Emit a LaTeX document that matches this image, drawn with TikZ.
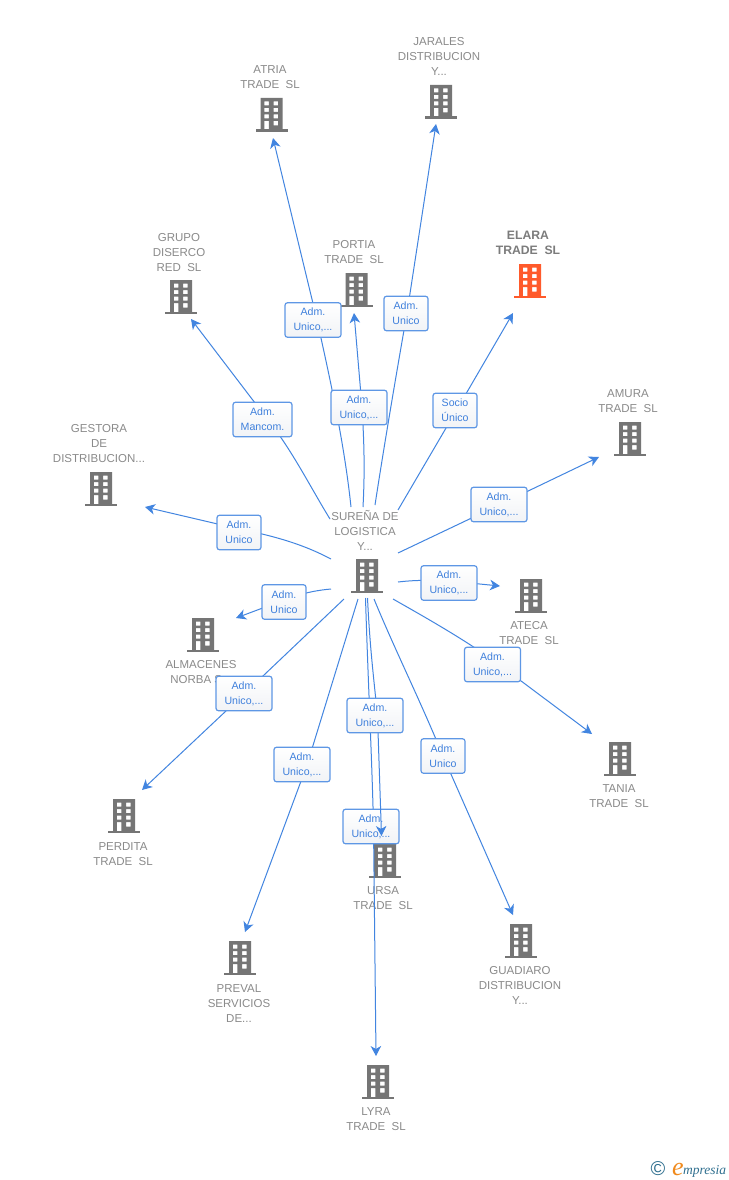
\documentclass[tikz,border=0pt]{standalone}
\usepackage{fontspec}
\setmainfont{Liberation Sans}
\newfontfamily\logofont{Liberation Serif}
\usetikzlibrary{arrows.meta}
\definecolor{linkblue}{HTML}{4285E0}
\definecolor{boxtext}{HTML}{3F80DC}
\definecolor{greytext}{HTML}{8A8A8A}
\definecolor{bldggrey}{HTML}{757575}
\definecolor{bldgred}{HTML}{FF5A2B}
\definecolor{logoteal}{HTML}{2F6F8F}
\definecolor{logoorange}{HTML}{F08A1D}
\definecolor{tagshade}{HTML}{F1F3F6}
\tikzset{
  bldg/.pic={
    \fill[pic actions,even odd rule]
      (-11,-17) rectangle (11,15)
      (-7.2,-13.5) rectangle (-2.7,-9.5) (2.2,-13.5) rectangle (6.7,-9.5)
      (-7.2,-7) rectangle (-2.7,-3) (2.2,-7) rectangle (6.7,-3)
      (-7.2,-0.5) rectangle (-2.7,3.5) (2.2,-0.5) rectangle (6.7,3.5)
      (-7.2,6) rectangle (-2.7,15) (2.2,6) rectangle (6.7,10.5);
    \fill[pic actions] (-16,14.5) rectangle (16,17);
  },
  grey/.style={fill=bldggrey},
  red/.style={fill=bldgred},
  lbl/.style={font=\fontsize{11.5}{15}\selectfont,text=greytext,align=center,inner sep=0pt,yshift=-0.8pt},
  lblstrong/.style={font=\fontsize{12.2}{15}\selectfont\bfseries,text=greytext!90!black,align=center,inner sep=0pt},
  link/.style={draw=linkblue,line width=1pt,-{Stealth[length=10pt,width=10.5pt,inset=3pt]}},
  tagbox/.style={draw=linkblue!85!white,line width=1.2pt,rounded corners=2.5pt,top color=white,bottom color=tagshade,
    font=\fontsize{10.6}{15}\selectfont,text=boxtext,align=center,inner sep=0pt,minimum height=34.5pt,
    execute at begin node={\rule{0pt}{11pt}}},
  tagwide/.style={tagbox,minimum width=56pt},
  tagslim/.style={tagbox,minimum width=44pt},
  tagmid/.style={tagbox,minimum width=59pt},
}
\begin{document}
\begin{tikzpicture}[x=1pt,y=-1pt]
\useasboundingbox (0,0) rectangle (728,1180);
\fill[white] (0,0) rectangle (728,1180);

% free ends of the connectors
\coordinate (sAtria) at (351,507);   \coordinate (kAtria) at (317,320);  \coordinate (tAtria) at (273,138);
\coordinate (sJarales) at (375,505); \coordinate (kJarales) at (407,313);\coordinate (tJarales) at (436,124);
\coordinate (sPortia) at (363,507);  \coordinate (kPortia) at (362,407); \coordinate (tPortia) at (354,313);
\coordinate (sElara) at (398,510);   \coordinate (kElara) at (456,411);  \coordinate (tElara) at (513,313);
\coordinate (sGrupo) at (330,519);   \coordinate (kGrupo) at (268,420);  \coordinate (tGrupo) at (191,319);
\coordinate (sGestora) at (331,559); \coordinate (kGestora) at (239,529);\coordinate (tGestora) at (145,507);
\coordinate (sAmura) at (398,553);   \coordinate (kAmura) at (499,505);  \coordinate (tAmura) at (599,457);
\coordinate (sAteca) at (398,582);   \coordinate (kAteca) at (449,581);  \coordinate (tAteca) at (500,586);
\coordinate (sAlma) at (331,589);    \coordinate (kAlma) at (284,600);   \coordinate (tAlma) at (236,618);
\coordinate (sTania) at (393,599);   \coordinate (kTania) at (497,663);  \coordinate (tTania) at (592,734);
\coordinate (sPerdita) at (344,599); \coordinate (kPerdita) at (244,694);\coordinate (tPerdita) at (142,790);
\coordinate (sPreval) at (358,599);  \coordinate (kPreval) at (307,765); \coordinate (tPreval) at (245,932);
\coordinate (sUrsa) at (367.5,598);  \coordinate (kUrsa) at (377.5,716); \coordinate (tUrsa) at (381.5,836);
\coordinate (sLyra) at (365.5,598);  \coordinate (kLyra) at (373.5,826); \coordinate (tLyra) at (376,1056);
\coordinate (sGuad) at (374,599);    \coordinate (kGuad) at (443,756);   \coordinate (tGuad) at (513,915);

% buildings and their labels
\pic[grey] at (271.5,115) {bldg};
\pic[grey] at (441,102) {bldg};
\pic[red]  at (530,281) {bldg};
\pic[grey] at (356.5,290) {bldg};
\pic[grey] at (181,297) {bldg};
\pic[grey] at (101,489) {bldg};
\pic[grey] at (630,439) {bldg};
\pic[grey] at (367,576) {bldg};
\pic[grey] at (531,596) {bldg};
\pic[grey] at (203,635) {bldg};
\pic[grey] at (620,759) {bldg};
\pic[grey] at (124,816) {bldg};
\pic[grey] at (385,861) {bldg};
\pic[grey] at (240,958) {bldg};
\pic[grey] at (521,941) {bldg};
\pic[grey] at (378,1082) {bldg};

\node[lbl] (nAtria) at (270,76.5) {ATRIA\\TRADE\ \ SL};
\node[lbl] (nJarales) at (439,56) {JARALES\\DISTRIBUCION\\Y...};
\node[lblstrong] (nElara) at (528,242.5) {ELARA\\TRADE\ \ SL};
\node[lbl] (nPortia) at (354,251.5) {PORTIA\\TRADE\ \ SL};
\node[lbl] (nGrupo) at (179,252) {GRUPO\\DISERCO\\RED\ \ SL};
\node[lbl] (nGestora) at (99,443) {GESTORA\\DE\\DISTRIBUCION...};
\node[lbl] (nAmura) at (628,400.5) {AMURA\\TRADE\ \ SL};
\node[lbl] (nHub) at (365,530) {SUREÑA DE\\LOGISTICA\\Y...};
\node[lbl] (nAteca) at (529,632.5) {ATECA\\TRADE\ \ SL};
\node[lbl] (nAlma) at (201,671.5) {ALMACENES\\NORBA S...};
\node[lbl] (nTania) at (619,795.5) {TANIA\\TRADE\ \ SL};
\node[lbl] (nPerdita) at (123,853.5) {PERDITA\\TRADE\ \ SL};
\node[lbl] (nUrsa) at (383,897.5) {URSA\\TRADE\ \ SL};
\node[lbl] (nPreval) at (239,1003) {PREVAL\\SERVICIOS\\DE...};
\node[lbl] (nGuad) at (520,985) {GUADIARO\\DISTRIBUCION\\Y...};
\node[lbl] (nLyra) at (376,1118.5) {LYRA\\TRADE\ \ SL};

% connectors
\draw[link] (sAtria) .. controls (344,440) and (328,370) .. (kAtria) -- (tAtria);
\draw[link] (sJarales) .. controls (385,440) and (397,370) .. (kJarales) -- (tJarales);
\draw[link] (sPortia) .. controls (365,470) and (364,440) .. (kPortia) -- (tPortia);
\draw[link] (sElara) -- (kElara) -- (tElara);
\draw[link] (sGrupo) .. controls (312,490) and (292,450) .. (kGrupo) -- (tGrupo);
\draw[link] (sGestora) .. controls (310,548) and (285,538) .. (kGestora) -- (tGestora);
\draw[link] (sAmura) -- (kAmura) -- (tAmura);
\draw[link] (sAteca) .. controls (415,580) and (430,580) .. (kAteca) -- (tAteca);
\draw[link] (sAlma) .. controls (320,590) and (305,592) .. (kAlma) -- (tAlma);
\draw[link] (sTania) .. controls (430,620) and (465,640) .. (kTania) -- (tTania);
\draw[link] (sPerdita) -- (kPerdita) -- (tPerdita);
\draw[link] (sPreval) -- (kPreval) -- (tPreval);
\draw[link] (sGuad) .. controls (395,650) and (420,700) .. (kGuad) -- (tGuad);
\draw[link] (sLyra) .. controls (368,680) and (372,760) .. (kLyra) -- (tLyra);

% tags on the connectors
\node[tagwide] (bAtria) at (313,320) {Adm.\\Unico,...};
\node[tagslim] (bJarales) at (406,313.5) {Adm.\\Unico};
\node[tagwide] (bPortia) at (359,407.5) {Adm.\\Unico,...};
\node[tagslim] (bElara) at (455,410.5) {Socio\\Único};
\node[tagmid]  (bGrupo) at (262.5,419.5) {Adm.\\Mancom.};
\node[tagslim] (bGestora) at (239,532.5) {Adm.\\Unico};
\node[tagwide] (bAmura) at (499,504.5) {Adm.\\Unico,...};
\node[tagwide] (bAteca) at (449,583) {Adm.\\Unico,...};
\node[tagslim] (bAlma) at (284,602) {Adm.\\Unico};
\node[tagwide] (bTania) at (492.5,664.5) {Adm.\\Unico,...};
\node[tagwide] (bPerdita) at (244,693.5) {Adm.\\Unico,...};
\node[tagwide] (bPreval) at (302,764.5) {Adm.\\Unico,...};
\node[tagslim] (bGuad) at (443,756) {Adm.\\Unico};
\node[tagwide] (bLyra) at (371,826.5) {Adm.\\Unico,...};

\draw[link] (sUrsa) .. controls (370,650) and (374,680) .. (kUrsa) -- (tUrsa);
\node[tagwide] (bUrsa) at (375,715.5) {Adm.\\Unico,...};

% logo
\node[inner sep=0pt,anchor=center,font=\fontsize{20}{20}\selectfont,text=logoteal] (copy) at (658,1169) {©};
\node[inner sep=0pt,anchor=base west,font=\logofont\itshape\fontsize{26}{26}\selectfont,text=logoorange] (logoE) at (672,1175) {e};
\node[inner sep=0pt,anchor=base west,font=\logofont\itshape\fontsize{13.5}{13.5}\selectfont,text=logoteal] (logoRest) at (683,1174) {mpresia};
\end{tikzpicture}
\end{document}
